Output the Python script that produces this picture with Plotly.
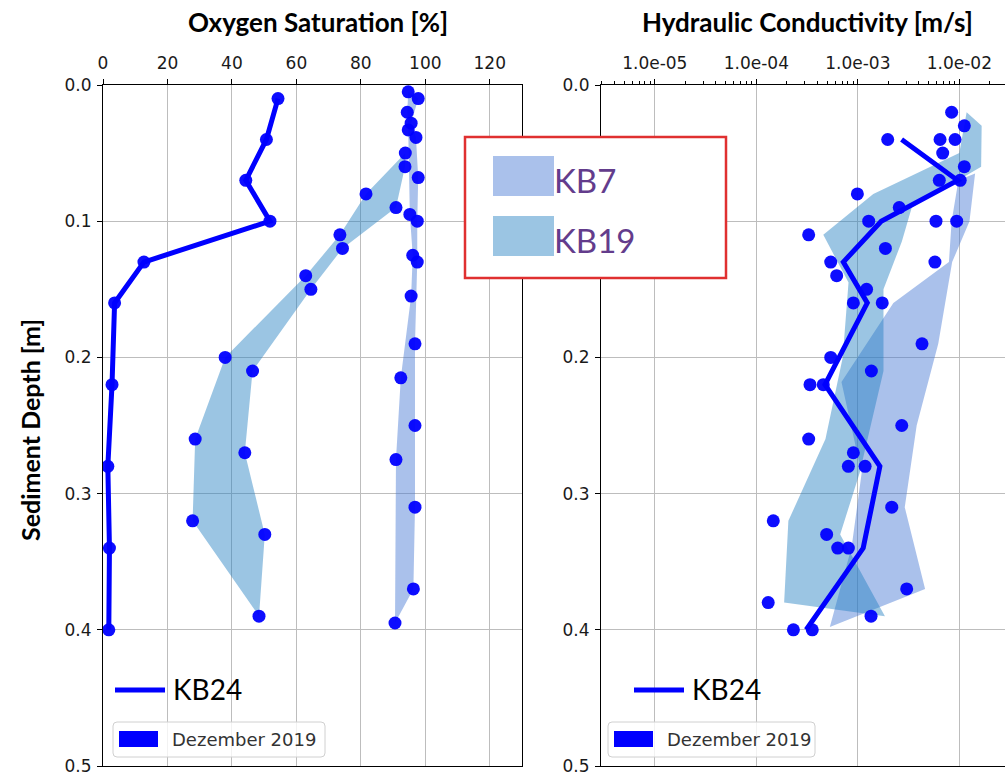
import plotly.graph_objects as go

W, H = 1005, 777

# ---------------- Oxygen saturation [%] vs sediment depth [m] ----------------
kb24_o2_depth = [0.01, 0.04, 0.07, 0.10, 0.13, 0.16, 0.22, 0.28, 0.34, 0.40]
kb24_o2 = [54.3, 50.7, 44.3, 51.8, 12.7, 3.6, 2.8, 1.5, 2.0, 1.8]

kb7_o2_a_depth = [0.005, 0.02, 0.033, 0.095, 0.125, 0.155, 0.215, 0.275, 0.395]
kb7_o2_a = [94.7, 94.4, 94.7, 95.2, 96.1, 95.6, 92.4, 90.9, 90.6]
kb7_o2_b_depth = [0.01, 0.028, 0.0385, 0.068, 0.10, 0.13, 0.19, 0.25, 0.31, 0.37]
kb7_o2_b = [97.8, 95.6, 97.1, 97.8, 97.5, 97.5, 96.8, 96.8, 96.8, 96.3]

kb19_o2_a_depth = [0.05, 0.08, 0.11, 0.14, 0.20, 0.26, 0.32]
kb19_o2_a = [93.8, 81.6, 73.5, 62.9, 37.9, 28.6, 27.8]
kb19_o2_b_depth = [0.06, 0.09, 0.12, 0.15, 0.21, 0.27, 0.33, 0.39]
kb19_o2_b = [93.7, 90.9, 74.3, 64.5, 46.4, 44.0, 50.2, 48.4]

# ---------------- Hydraulic conductivity [m/s] vs sediment depth [m] ----------------
kb24_k_depth = [0.04, 0.07, 0.10, 0.13, 0.16, 0.22, 0.28, 0.34, 0.40]
kb24_k = [2.7e-3, 9.6e-3, 1.7e-3, 7.2e-4, 1.24e-3, 4.75e-4, 1.65e-3, 1.13e-3, 3.1e-4]

k_meas_depth = [0.02, 0.03, 0.04, 0.04, 0.04, 0.05, 0.06, 0.07, 0.07, 0.08,
                0.09, 0.10, 0.10, 0.10, 0.11, 0.12, 0.13, 0.13, 0.14, 0.15,
                0.16, 0.16, 0.19, 0.20, 0.21, 0.22, 0.22, 0.25, 0.26, 0.27,
                0.28, 0.28, 0.31, 0.32, 0.33, 0.34, 0.34, 0.37, 0.38, 0.39,
                0.40, 0.40]
k_meas = [8.4e-3, 1.12e-2, 1.97e-3, 6.46e-3, 9.08e-3, 6.86e-3, 1.12e-2, 6.35e-3, 1.02e-2, 9.9e-4,
          2.56e-3, 1.28e-3, 5.89e-3, 9.42e-3, 3.28e-4, 1.87e-3, 5.41e-4, 5.75e-3, 6.19e-4, 1.22e-3,
          9.04e-4, 1.74e-3, 4.29e-3, 5.41e-4, 1.36e-3, 3.38e-4, 4.57e-4, 2.71e-3, 3.28e-4, 9.04e-4,
          8.07e-4, 1.18e-3, 2.16e-3, 1.47e-4, 4.93e-4, 6.34e-4, 8.07e-4, 3.03e-3, 1.31e-4, 1.35e-3,
          2.32e-4, 3.56e-4]

kb19_k_lo_depth = [0.02, 0.05, 0.08, 0.11, 0.145, 0.20, 0.26, 0.32, 0.38]
kb19_k_lo = [1.18e-2, 1.0e-2, 1.42e-3, 4.57e-4, 8.1e-4, 7.1e-4, 4.8e-4, 2.07e-4, 1.88e-4]
kb19_k_hi_depth = [0.03, 0.06, 0.09, 0.115, 0.15, 0.21, 0.285, 0.33, 0.39]
kb19_k_hi = [1.66e-2, 1.64e-2, 3.4e-3, 2.71e-3, 1.79e-3, 1.79e-3, 1.04e-3, 6.7e-4, 1.85e-3]

kb7_k_lo_depth = [0.07, 0.10, 0.13, 0.16, 0.218, 0.285, 0.339, 0.398]
kb7_k_lo = [9.8e-3, 8.4e-3, 7.9e-3, 2.24e-3, 6.9e-4, 1.09e-3, 8.7e-4, 5.3e-4]
kb7_k_hi_depth = [0.065, 0.10, 0.13, 0.19, 0.25, 0.31, 0.37]
kb7_k_hi = [1.43e-2, 1.26e-2, 8.5e-3, 6.2e-3, 3.8e-3, 2.9e-3, 4.6e-3]

o2_ticks = [0, 20, 40, 60, 80, 100, 120]
k_ticks = [1e-5, 1e-4, 1e-3, 1e-2]
k_ticktext = ["1.0e-05", "1.0e-04", "1.0e-03", "1.0e-02"]
depth_ticks = [0.0, 0.1, 0.2, 0.3, 0.4, 0.5]
depth_text_left = ["0.0", "0.1", "0.2", "0.3", "0.4", "0.5"]
# the 0.1 label of the right panel sits under the site box
depth_text_right = ["0.0", "", "0.2", "0.3", "0.4", "0.5"]

KB7_FILL = "rgba(66,117,211,0.45)"
KB19_FILL = "rgba(33,126,193,0.45)"
KB7_SOLID = "rgb(170,193,235)"
KB19_SOLID = "rgb(155,197,227)"
BLUE = "#0000ff"
MARK = dict(color=BLUE, size=13, opacity=0.95, line=dict(width=0))

CAL = "Lato"
TICKF = dict(family="DejaVu Sans", size=17, color="#1a1a1a")


def ring(lo_x, lo_y, hi_x, hi_y):
    """Closed polygon: one profile downwards, the other back up."""
    return list(lo_x) + list(hi_x)[::-1], list(lo_y) + list(hi_y)[::-1]


fig = go.Figure()

# --- left panel: oxygen saturation ---
for ax, ay, bx, by, col in [
    (kb7_o2_a, kb7_o2_a_depth, kb7_o2_b, kb7_o2_b_depth, KB7_FILL),
    (kb19_o2_a, kb19_o2_a_depth, kb19_o2_b, kb19_o2_b_depth, KB19_FILL),
]:
    px_, py_ = ring(ax, ay, bx, by)
    fig.add_trace(go.Scatter(x=px_, y=py_, mode="lines", fill="toself", fillcolor=col,
                             line=dict(width=0), hoverinfo="skip", showlegend=False,
                             xaxis="x", yaxis="y"))
    fig.add_trace(go.Scatter(x=ax + bx, y=ay + by, mode="markers", marker=MARK,
                             showlegend=False, xaxis="x", yaxis="y"))

fig.add_trace(go.Scatter(x=kb24_o2, y=kb24_o2_depth, mode="lines+markers",
                         line=dict(color=BLUE, width=5), marker=MARK,
                         showlegend=False, xaxis="x", yaxis="y"))

# --- right panel: hydraulic conductivity ---
for lx, ly, hx, hy, col in [
    (kb7_k_lo, kb7_k_lo_depth, kb7_k_hi, kb7_k_hi_depth, KB7_FILL),
    (kb19_k_lo, kb19_k_lo_depth, kb19_k_hi, kb19_k_hi_depth, KB19_FILL),
]:
    px_, py_ = ring(lx, ly, hx, hy)
    fig.add_trace(go.Scatter(x=px_, y=py_, mode="lines", fill="toself", fillcolor=col,
                             line=dict(width=0), hoverinfo="skip", showlegend=False,
                             xaxis="x2", yaxis="y2"))

fig.add_trace(go.Scatter(x=k_meas, y=k_meas_depth, mode="markers", marker=MARK,
                         showlegend=False, xaxis="x2", yaxis="y2"))
fig.add_trace(go.Scatter(x=kb24_k, y=kb24_k_depth, mode="lines",
                         line=dict(color=BLUE, width=5), showlegend=False,
                         xaxis="x2", yaxis="y2"))


def X(p):
    return p / W


def Y(p):
    return 1 - p / H


def axis_style(mirror=True, standoff=0):
    return dict(showgrid=True, gridcolor="#bdbdbd", gridwidth=1, zeroline=False,
                showline=True, linecolor="black", linewidth=1, mirror=mirror,
                ticks="outside", ticklen=5, tickwidth=1, tickcolor="black",
                tickfont=TICKF, automargin=False, ticklabelstandoff=standoff)


minor_k = [m * 10.0 ** e for e in range(-6, -1) for m in range(2, 10)]

fig.update_layout(
    width=W, height=H, autosize=False,
    margin=dict(l=0, r=0, t=0, b=0, pad=0),
    paper_bgcolor="white", plot_bgcolor="white",
    showlegend=False,
    xaxis=dict(domain=[X(103), X(522)], range=[0, 130], side="top", anchor="y",
               tickvals=o2_ticks, **axis_style(True, 3)),
    yaxis=dict(domain=[Y(766), Y(85)], range=[0.5, 0], anchor="x",
               tickvals=depth_ticks, ticktext=depth_text_left, **axis_style(True, 2)),
    xaxis2=dict(domain=[X(601), 1.0], type="log", range=[-5.53, -1.55], side="top",
                anchor="y2", tickvals=k_ticks, ticktext=k_ticktext,
                minor=dict(tickvals=minor_k, ticks="outside", ticklen=3,
                           tickcolor="black", showgrid=False),
                **axis_style(True, 3)),
    yaxis2=dict(domain=[Y(766), Y(85)], range=[0.5, 0], anchor="x2",
                tickvals=depth_ticks, ticktext=depth_text_right, **axis_style(False, 2)),
)

shapes = []
annots = []

# titles
annots.append(dict(text="<b>Oxygen Saturation [%]</b>", x=X(318), y=Y(22),
                   xref="paper", yref="paper", showarrow=False, xanchor="center",
                   yanchor="middle", font=dict(family=CAL, size=26, color="black")))
annots.append(dict(text="<b>Hydraulic Conductivity [m/s]</b>", x=X(807), y=Y(22),
                   xref="paper", yref="paper", showarrow=False, xanchor="center",
                   yanchor="middle", font=dict(family=CAL, size=26, color="black")))
annots.append(dict(text="<b>Sediment Depth [m]</b>", x=X(30), y=Y(430),
                   xref="paper", yref="paper", showarrow=False, textangle=-90,
                   xanchor="center", yanchor="middle",
                   font=dict(family=CAL, size=25, color="black")))


def rounded(x0, y0, x1, y1, r):
    a, b = X(x0), Y(y0)
    c, d = X(x1), Y(y1)
    rx, ry = r / W, r / H
    return (f"M {a+rx},{b} L {c-rx},{b} Q {c},{b} {c},{b-ry} L {c},{d+ry} "
            f"Q {c},{d} {c-rx},{d} L {a+rx},{d} Q {a},{d} {a},{d+ry} "
            f"L {a},{b-ry} Q {a},{b} {a+rx},{b} Z")


# per-panel legend entries (KB24 line and sampling date)
for lx0, lx1, tx, bx0, bx1 in [(115, 165, 171, 113, 325), (634, 684, 690, 608, 815)]:
    shapes.append(dict(type="line", xref="paper", yref="paper", x0=X(lx0), x1=X(lx1),
                       y0=Y(690), y1=Y(690), line=dict(color=BLUE, width=5), layer="above"))
    annots.append(dict(text="KB24", x=X(tx), y=Y(689), xref="paper", yref="paper",
                       showarrow=False, xanchor="left", yanchor="middle",
                       font=dict(family=CAL, size=28, color="black")))
    shapes.append(dict(type="path", xref="paper", yref="paper",
                       path=rounded(bx0, 722, bx1, 757, 4),
                       fillcolor="rgba(255,255,255,0.8)",
                       line=dict(color="#d0d0d0", width=1), layer="above"))
    shapes.append(dict(type="rect", xref="paper", yref="paper", x0=X(bx0 + 6), x1=X(bx0 + 45),
                       y0=Y(731), y1=Y(747), fillcolor=BLUE, line=dict(width=0), layer="above"))
    annots.append(dict(text="Dezember 2019", x=X(bx0 + 57), y=Y(739.5), xref="paper",
                       yref="paper", showarrow=False, xanchor="left", yanchor="middle",
                       font=dict(family="DejaVu Sans", size=18, color="#333333")))

# site legend box
shapes.append(dict(type="rect", xref="paper", yref="paper", x0=X(465), x1=X(726),
                   y0=Y(137), y1=Y(278), fillcolor="white",
                   line=dict(color="#e03030", width=2.5), layer="above"))
for (y0, y1, col, label) in [(156, 196, KB7_SOLID, "KB7"), (216, 256, KB19_SOLID, "KB19")]:
    shapes.append(dict(type="rect", xref="paper", yref="paper", x0=X(493), x1=X(554),
                       y0=Y(y0), y1=Y(y1), fillcolor=col, line=dict(width=0), layer="above"))
    annots.append(dict(text=label, x=X(552), y=Y((y0 + y1) / 2 + 4), xref="paper",
                       yref="paper", showarrow=False, xanchor="left", yanchor="middle",
                       font=dict(family=CAL, size=33, color="#633c8c")))

fig.update_layout(shapes=shapes, annotations=annots)
fig.write_html("out.html")
